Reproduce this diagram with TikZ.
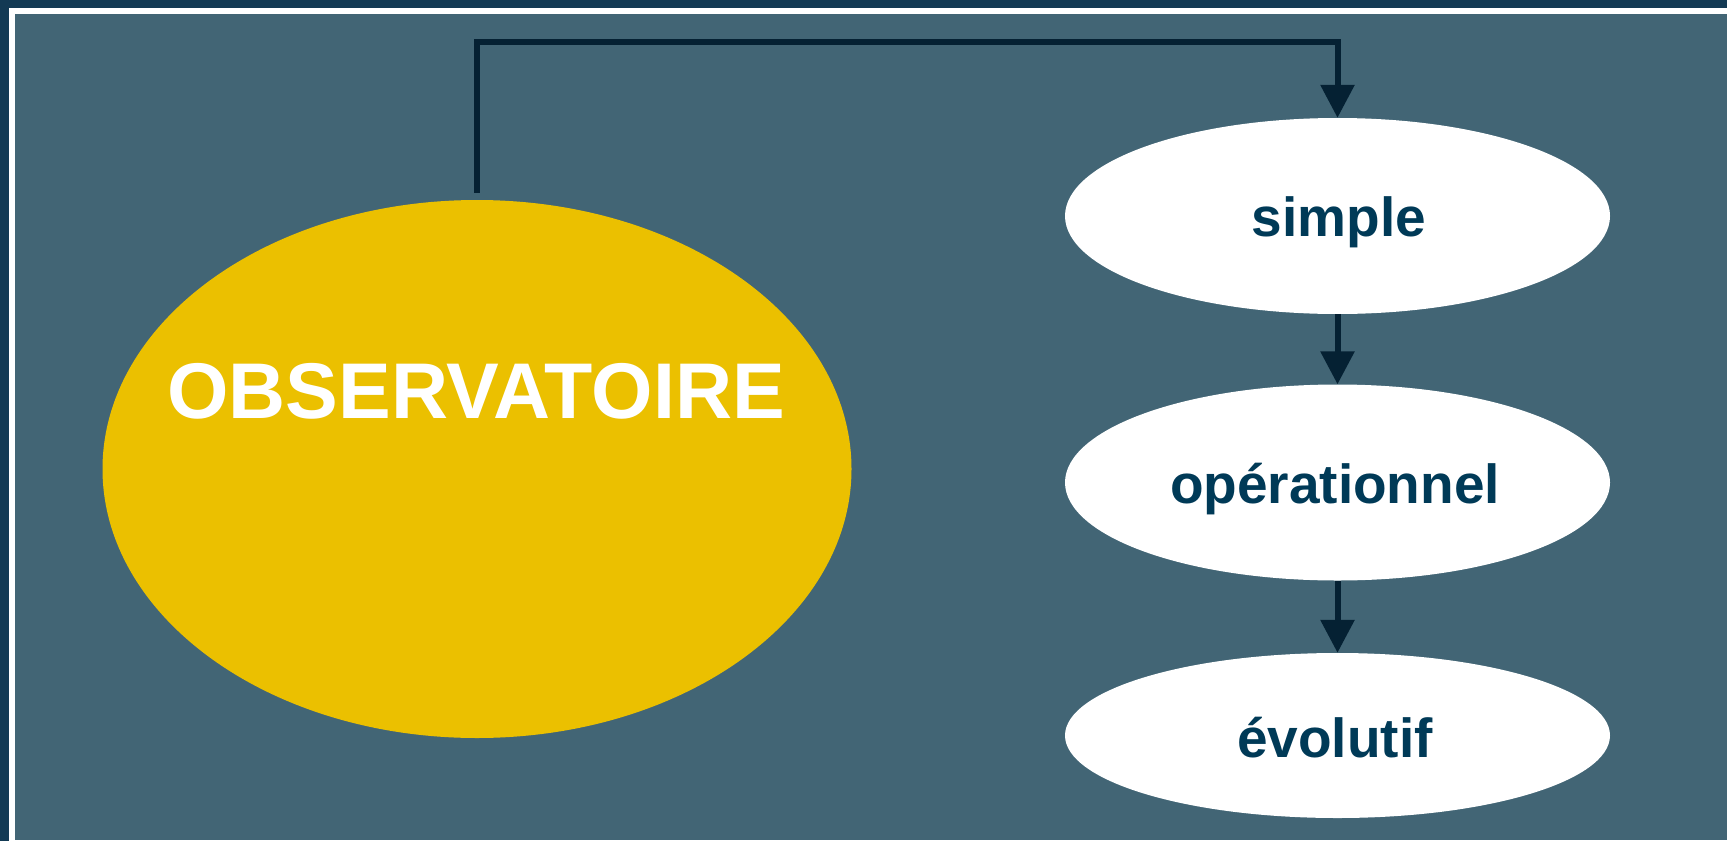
\documentclass[tikz,border=0pt]{standalone}
\usepackage{fontspec}
\setmainfont{Liberation Sans}
\usetikzlibrary{shapes.geometric,arrows.meta}
\definecolor{navy}{HTML}{133A54}
\definecolor{bgfill}{HTML}{426575}
\definecolor{linec}{HTML}{052133}
\definecolor{gold}{HTML}{EBC000}
\definecolor{txt}{HTML}{003A57}
\begin{document}
\begin{tikzpicture}[x=1pt,y=-1pt,
  bigell/.style={ellipse,fill=gold,inner sep=0pt,minimum width=749pt,minimum height=538pt},
  smallell/.style={ellipse,fill=white,inner sep=0pt,minimum width=545pt},
  smalltext/.style={anchor=base,inner sep=0pt,text=txt,font=\bfseries\fontsize{55}{60}\selectfont},
  conn/.style={draw=linec,line width=6pt,-{Triangle[width=33pt,length=33pt]}},
  bigtext/.style={anchor=base,text=white,font=\bfseries\fontsize{79}{82}\selectfont,inner sep=0pt}]
\useasboundingbox (0,0) rectangle (1727,841);
\fill[navy] (0,0) rectangle (1727,841);
\fill[white] (9,8) rectangle (1727,841);
\fill[bgfill] (15,14) rectangle (1727,839.5);

\node[bigell] (obs) at (477,469) {};
\node[bigtext] (obstxt) at (476,418) {OBSERVATOIRE};

\node[smallell,minimum height=196pt] (simple) at (1337.5,216) {};
\node[smallell,minimum height=196pt] (oper) at (1337.5,482.5) {};
\node[smallell,minimum height=165pt] (evol) at (1337.5,735.5) {};
\node[smalltext] (simpletxt) at (1339,236) {simple};
\node[smalltext] (opertxt) at (1335,503) {opérationnel};
\node[smalltext] (evoltxt) at (1335,757) {évolutif};

\coordinate (c1) at (obs.north |- 0,42);
\coordinate (c2) at (simple.north |- 0,42);
\draw[conn,shorten <=7pt] (obs.north) -- (c1) -- (c2) -- (simple.north);
\draw[conn] (simple.south) -- (oper.north);
\draw[conn] (oper.south) -- (evol.north);
\end{tikzpicture}
\end{document}
